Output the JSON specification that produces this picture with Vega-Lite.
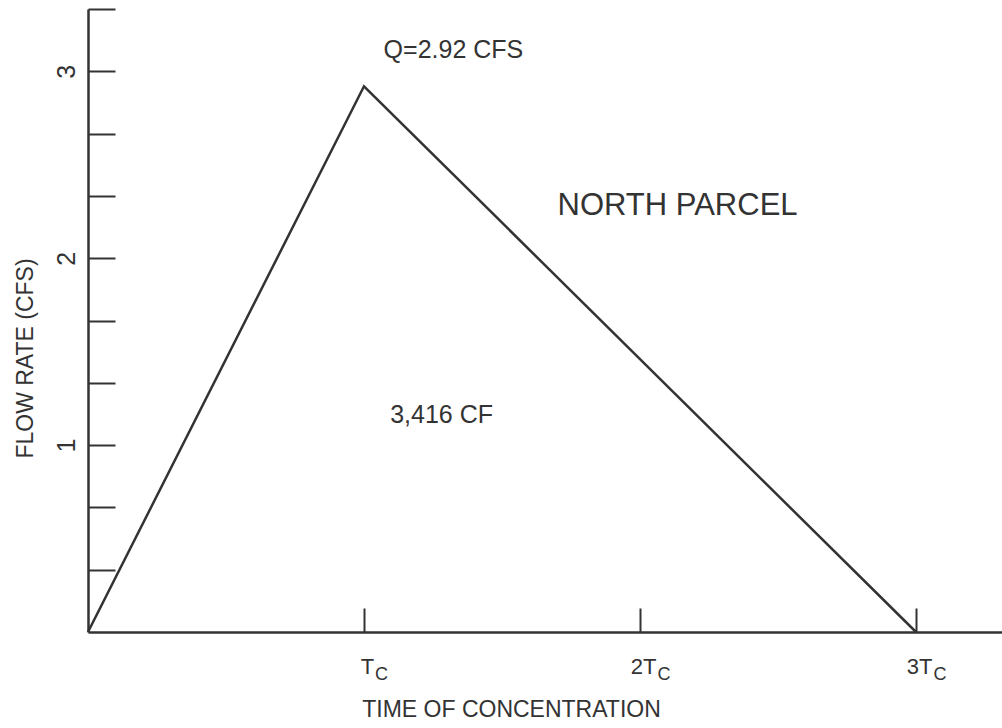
{
  "$schema": "https://vega.github.io/schema/vega-lite/v6.json",
  "width": 914,
  "height": 623,
  "autosize": {"type": "none"},
  "padding": {"left": 88, "top": 9, "right": 0, "bottom": 96},
  "background": "white",
  "config": {"view": {"stroke": null}, "font": "Liberation Sans"},
  "encoding": {
    "x": {
      "field": "t",
      "type": "quantitative",
      "scale": {"domain": [0, 3.3116], "nice": false, "zero": false},
      "axis": {
        "title": "TIME OF CONCENTRATION",
        "values": [1, 2, 3],
        "labelExpr": "datum.value == 1 ? 'T' : format(datum.value, 'd') + 'T'",
        "labelAlign": "center",
        "labelBaseline": "alphabetic",
        "labelPadding": 65,
        "labelOffset": 3,
        "labelFontSize": 22,
        "labelColor": "#333",
        "labelFont": "Liberation Sans",
        "labelFlush": false,
        "labelOverlap": false,
        "tickSize": -24,
        "tickWidth": 2,
        "tickColor": "#333",
        "domainColor": "#333",
        "domainWidth": 2.5,
        "grid": false,
        "titleFont": "Liberation Sans",
        "titleFontSize": 23,
        "titleFontWeight": "normal",
        "titleColor": "#333",
        "titleX": 423,
        "titleY": 84,
        "titleAlign": "center",
        "titleBaseline": "alphabetic"
      }
    },
    "y": {
      "field": "q",
      "type": "quantitative",
      "scale": {"domain": [0, 3.3333334], "nice": false, "zero": false},
      "axis": {
        "title": "FLOW RATE (CFS)",
        "values": [0.3333333, 0.6666667, 1, 1.3333333, 1.6666667, 2, 2.3333333, 2.6666667, 3, 3.3333333],
        "labelExpr": "datum.value == 1 || datum.value == 2 || datum.value == 3 ? format(datum.value, 'd') : ''",
        "labelAngle": -90,
        "labelAlign": "center",
        "labelBaseline": "alphabetic",
        "labelPadding": 41,
        "labelFontSize": 25,
        "labelColor": "#333",
        "labelFont": "Liberation Sans",
        "labelFlush": false,
        "labelOverlap": false,
        "tickSize": -27,
        "tickWidth": 2,
        "tickColor": "#333",
        "domainColor": "#333",
        "domainWidth": 2.5,
        "grid": false,
        "titleFont": "Liberation Sans",
        "titleFontSize": 23,
        "titleFontWeight": "normal",
        "titleColor": "#333",
        "titleX": -56,
        "titleY": 349,
        "titleAngle": -90,
        "titleAlign": "center",
        "titleBaseline": "alphabetic"
      }
    }
  },
  "layer": [
    {
      "data": {"values": [{"t": 0, "q": 0}, {"t": 1, "q": 2.92}, {"t": 3, "q": 0}]},
      "mark": {"type": "line", "stroke": "#333", "strokeWidth": 2.5}
    },
    {
      "data": {"values": [{"t": 1, "q": 0, "s": "C"}]},
      "mark": {"type": "text", "align": "left", "baseline": "alphabetic", "dx": 11, "dy": 48, "fontSize": 18, "color": "#333", "font": "Liberation Sans"},
      "encoding": {"text": {"field": "s"}}
    },
    {
      "data": {"values": [{"t": 2, "q": 0, "s": "C"}, {"t": 3, "q": 0, "s": "C"}]},
      "mark": {"type": "text", "align": "left", "baseline": "alphabetic", "dx": 17.5, "dy": 48, "fontSize": 18, "color": "#333", "font": "Liberation Sans"},
      "encoding": {"text": {"field": "s"}}
    },
    {
      "data": {"values": [{"t": 1.324, "q": 3.071, "s": "Q=2.92 CFS"}, {"t": 1.281, "q": 1.118, "s": "3,416 CF"}]},
      "mark": {"type": "text", "align": "center", "baseline": "alphabetic", "fontSize": 25, "color": "#333", "font": "Liberation Sans"},
      "encoding": {"text": {"field": "s"}}
    },
    {
      "data": {"values": [{"t": 2.136, "q": 2.231, "s": "NORTH PARCEL"}]},
      "mark": {"type": "text", "align": "center", "baseline": "alphabetic", "fontSize": 31, "color": "#333", "font": "Liberation Sans"},
      "encoding": {"text": {"field": "s"}}
    }
  ]
}
